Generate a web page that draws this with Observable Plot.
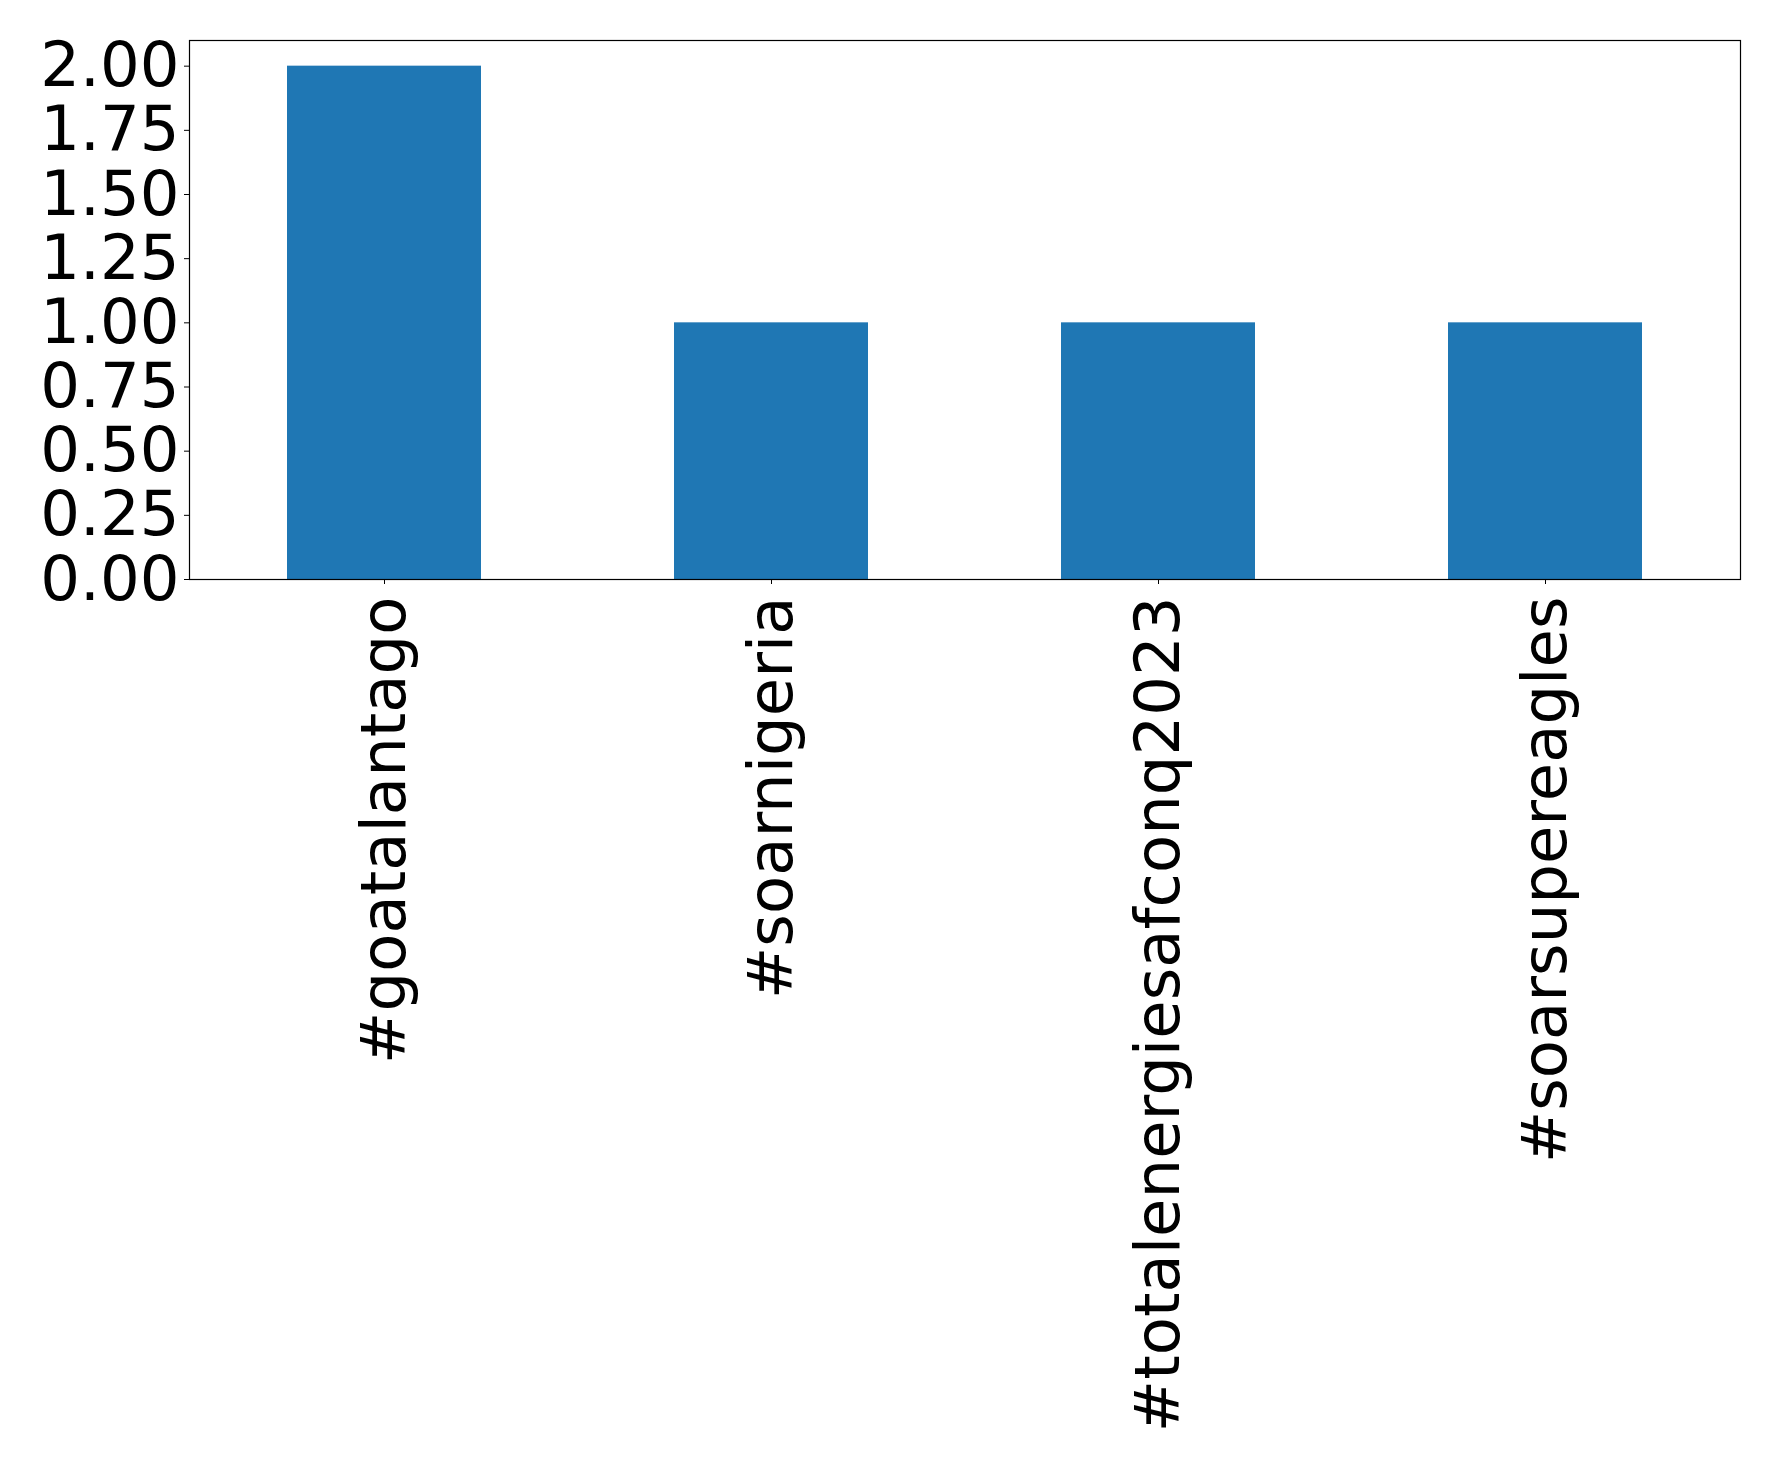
<!DOCTYPE html>
<html>
<head>
<meta charset="utf-8">
<script src="https://cdn.jsdelivr.net/npm/d3@7"></script>
<script src="https://cdn.jsdelivr.net/npm/@observablehq/plot@0.6"></script>
<style>
  html, body { margin: 0; padding: 0; background: white; }
</style>
</head>
<body>
<div id="chart"></div>
<script>
const categories = ["#goatalantago", "#soarnigeria", "#totalenergiesafconq2023", "#soarsupereagles"];
const counts = [2, 1, 1, 1];
const yTicks = [0, 0.25, 0.5, 0.75, 1.0, 1.25, 1.5, 1.75, 2.0];

const data = categories.map((c, i) => ({cat: c, v: counts[i]}));

const chart = Plot.plot({
  width: 1778,
  height: 1464,
  marginLeft: 189,
  marginRight: 38,
  marginTop: 40,
  marginBottom: 885,
  style: {fontFamily: "DejaVu Sans", fontSize: "62.5px", background: "white", color: "black"},
  x: {domain: categories, paddingInner: 0.5, paddingOuter: 0.25, label: null},
  y: {domain: [0, 2.1], label: null},
  marks: [
    Plot.barY(data, {x: "cat", y: "v", fill: "#1f77b4"}),
    Plot.frame({stroke: "black", strokeWidth: 1.2}),
    Plot.axisY({ticks: yTicks, tickFormat: d => d.toFixed(2), tickSize: 5, tickPadding: 5, fontSize: 62.5, label: null}),
    Plot.axisX({tickRotate: -90, tickSize: 5, tickPadding: 12, fontSize: 62.5, label: null})
  ]
});
document.getElementById("chart").appendChild(chart);
</script>
</body>
</html>
